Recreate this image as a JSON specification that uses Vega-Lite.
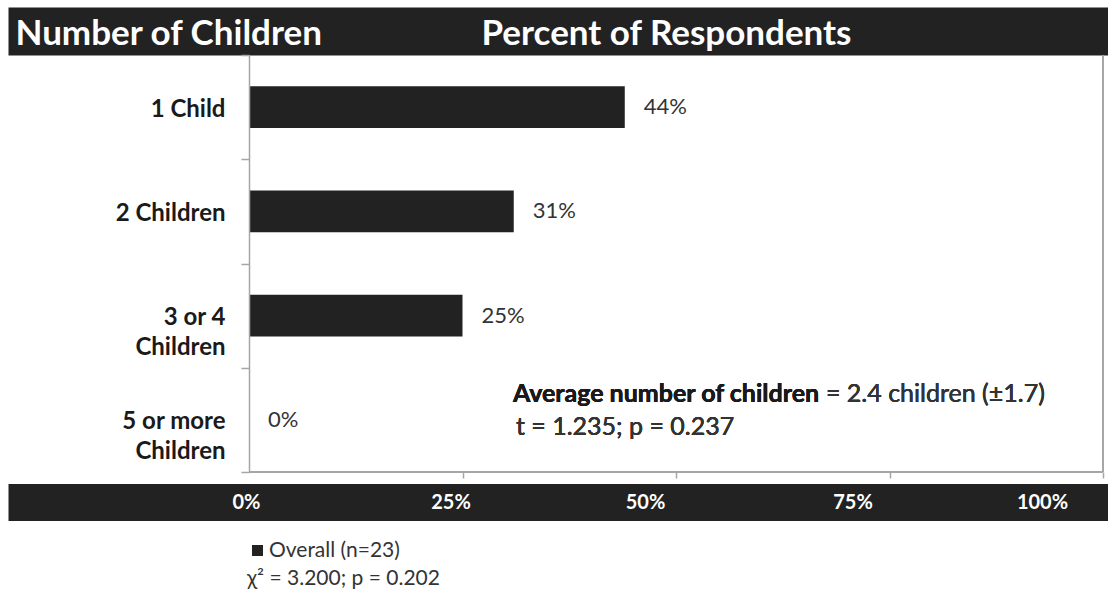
{
  "$schema": "https://vega.github.io/schema/vega-lite/v6.json",
  "width": 1100,
  "height": 417,
  "autosize": {"type": "none"},
  "padding": {"left": 8, "top": 55, "right": 0, "bottom": 128},
  "background": "white",
  "config": {"font": "Lato", "view": {"stroke": null}},
  "data": {"values": [
    {"category": "1 Child", "percent": 0.44},
    {"category": "2 Children", "percent": 0.31},
    {"category": "3 or 4 Children", "percent": 0.25},
    {"category": "5 or more Children", "percent": 0}
  ]},
  "resolve": {"axis": {"x": "independent", "y": "independent"}},
  "layer": [
    {
      "mark": {"type": "bar", "height": {"band": 0.4}},
      "encoding": {
        "y": {
          "field": "category", "type": "nominal",
          "scale": {"domain": ["1 Child", "2 Children", "3 or 4 Children", "5 or more Children"], "paddingInner": 0, "paddingOuter": 0},
          "axis": {
            "orient": "left", "offset": -241, "zindex": 1,
            "title": "Number of Children", "titleAngle": 0, "titleAlign": "left", "titleBaseline": "middle",
            "titleX": -234, "titleY": -22, "titleFontSize": 35, "titleFontWeight": "bold", "titleColor": "white",
            "domainColor": "#a6a6a6", "domainWidth": 1.5,
            "tickColor": "#a6a6a6", "tickWidth": 1.5, "tickSize": 8, "tickBand": "extent",
            "labelFontSize": 24, "labelFontWeight": "bold", "labelColor": "#1a1a1a", "labelLineHeight": 30,
            "labelPadding": 16, "labelOffset": 2,
            "labelExpr": "datum.value == '3 or 4 Children' ? ['3 or 4', 'Children'] : datum.value == '5 or more Children' ? ['5 or more', 'Children'] : datum.value"
          }
        },
        "x": {
          "field": "percent", "type": "quantitative",
          "scale": {"domain": [-0.2822, 1.00585], "nice": false, "zero": false},
          "axis": {
            "orient": "bottom", "offset": 30, "zindex": 0,
            "domainColor": "#222222", "domainWidth": 37,
            "ticks": false, "labels": false, "grid": false, "title": null
          }
        },
        "color": {
          "datum": "Overall (n=23)", "type": "nominal",
          "scale": {"range": ["#222222"]},
          "legend": {
            "orient": "none", "legendX": 239, "legendY": 485,
            "title": "χ² = 3.200; p = 0.202", "titleOrient": "bottom", "titleAnchor": "start", "titleAlign": "left",
            "titleFontSize": 21, "titleFontWeight": "normal",
            "titleColor": "#333333", "titleLimit": 400, "titlePadding": 7,
            "labelFontSize": 21, "labelColor": "#333333", "labelLimit": 400, "labelOffset": 1,
            "symbolType": "square", "symbolSize": 121, "symbolStrokeWidth": 0
          }
        }
      }
    },
    {
      "mark": {"type": "text", "align": "left", "baseline": "middle", "dx": 19, "fontSize": 22, "color": "#333333"},
      "encoding": {
        "y": {"field": "category", "type": "nominal", "axis": null},
        "x": {
          "field": "percent", "type": "quantitative",
          "axis": {
            "orient": "top", "offset": 24, "zindex": 0,
            "domainColor": "#222222", "domainWidth": 48,
            "ticks": false, "labels": false, "grid": false,
            "title": "Percent of Respondents", "titleColor": "white", "titleFontSize": 35, "titleFontWeight": "bold",
            "titleAlign": "left", "titleBaseline": "middle", "titleAngle": 0, "titleX": 473, "titleY": 2
          }
        },
        "text": {"field": "percent", "type": "quantitative", "format": ".0%"}
      }
    },
    {
      "mark": {"type": "rule", "color": "#a6a6a6", "strokeWidth": 1.5},
      "encoding": {
        "x": {
          "datum": 0, "type": "quantitative",
          "axis": {
            "orient": "bottom", "offset": 0, "values": [0.25, 0.5, 0.75, 1], "zindex": 0,
            "domain": false, "labels": false, "grid": false, "title": null,
            "ticks": true, "tickSize": 6, "tickColor": "#a6a6a6", "tickWidth": 1.5
          }
        },
        "x2": {"datum": 1},
        "y": {"datum": "5 or more Children", "type": "nominal", "bandPosition": 1, "axis": null}
      }
    },
    {
      "mark": {"type": "rule", "color": "#a6a6a6", "strokeWidth": 1.5},
      "encoding": {
        "x": {
          "datum": 1, "type": "quantitative",
          "axis": {
            "orient": "bottom", "offset": 30, "zindex": 2,
            "domain": false, "ticks": false, "tickSize": 0, "grid": false, "title": null,
            "values": [0, 0.25, 0.5, 0.75, 1], "format": ".0%",
            "labelColor": "white", "labelFontWeight": "bold", "labelFontSize": 20, "labelBaseline": "middle",
            "labelPadding": 0, "labelFlush": false, "labelOverlap": false,
            "labelOffset": {
              "condition": [
                {"test": "datum.value == 0", "value": -3},
                {"test": "datum.value == 0.25", "value": -12},
                {"test": "datum.value == 0.5", "value": -31},
                {"test": "datum.value == 0.75", "value": -37}
              ],
              "value": -61
            }
          }
        }
      }
    },
    {
      "mark": {"type": "text", "text": "Average number of children", "align": "left", "baseline": "middle", "fontSize": 25, "fontWeight": "bold", "color": "#1a1a1a", "dy": -26},
      "encoding": {
        "x": {"datum": 0.309, "type": "quantitative", "axis": null},
        "y": {"datum": "5 or more Children", "type": "nominal", "axis": null}
      }
    },
    {
      "mark": {"type": "text", "text": "= 2.4 children (±1.7)", "align": "left", "baseline": "middle", "fontSize": 25, "color": "#333333", "dy": -26},
      "encoding": {
        "x": {"datum": 0.6756, "type": "quantitative", "axis": null},
        "y": {"datum": "5 or more Children", "type": "nominal", "axis": null}
      }
    },
    {
      "mark": {"type": "text", "text": "t = 1.235; p = 0.237", "align": "left", "baseline": "middle", "fontSize": 25, "color": "#333333", "dy": 7},
      "encoding": {
        "x": {"datum": 0.3126, "type": "quantitative", "axis": null},
        "y": {"datum": "5 or more Children", "type": "nominal", "axis": null}
      }
    }
  ]
}
